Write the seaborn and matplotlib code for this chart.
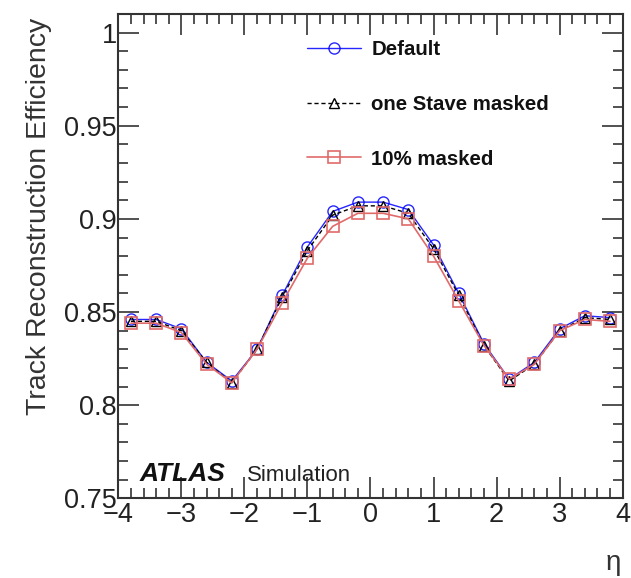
import numpy as np
import pandas as pd
import matplotlib
matplotlib.use("Agg")
import matplotlib.pyplot as plt
import seaborn as sns
from matplotlib.ticker import MultipleLocator

eta = [-3.8, -3.4, -3.0, -2.6, -2.2, -1.8, -1.4, -1.0, -0.6, -0.2,
       0.2, 0.6, 1.0, 1.4, 1.8, 2.2, 2.6, 3.0, 3.4, 3.8]
eff_default = [0.846, 0.846, 0.841, 0.823, 0.813, 0.830, 0.859, 0.885, 0.904, 0.909,
               0.909, 0.905, 0.886, 0.860, 0.833, 0.814, 0.823, 0.841, 0.848, 0.847]
eff_stave = [0.845, 0.845, 0.840, 0.823, 0.812, 0.830, 0.858, 0.883, 0.902, 0.907,
             0.907, 0.903, 0.884, 0.859, 0.832, 0.813, 0.822, 0.840, 0.847, 0.846]
eff_10pct = [0.844, 0.844, 0.839, 0.822, 0.812, 0.830, 0.855, 0.879, 0.896, 0.903,
             0.903, 0.900, 0.880, 0.856, 0.832, 0.814, 0.822, 0.840, 0.846, 0.845]
labels = ["Default", "one Stave masked", "10% masked"]

sns.set_style("ticks")
plt.rcParams['font.family'] = ['Liberation Sans', 'DejaVu Sans']

fig = plt.figure(figsize=(6.31, 5.78), dpi=100)
ax = fig.add_axes([0.1875, 0.1379, 0.7993, 0.8379])

sns.lineplot(x=eta, y=eff_default, ax=ax, color='#0000ff', lw=1.0, marker='o',
             markersize=8, markerfacecolor='none', markeredgecolor='#0000ff',
             markeredgewidth=1.0, label=labels[0], alpha=0.85)
sns.lineplot(x=eta, y=eff_stave, ax=ax, color='black', lw=1.0, linestyle=(0, (3, 2)),
             marker='^', markersize=7, markerfacecolor='none', markeredgecolor='black',
             markeredgewidth=1.0, label=labels[1])
sns.lineplot(x=eta, y=eff_10pct, ax=ax, color='#e06a6a', lw=1.2, marker='s',
             markersize=8, markerfacecolor='none', markeredgecolor='#e06a6a',
             markeredgewidth=1.2, label=labels[2])

ax.set_xlim(-4, 4)
ax.set_ylim(0.75, 1.01)
ax.xaxis.set_minor_locator(MultipleLocator(0.2))
ax.yaxis.set_minor_locator(MultipleLocator(0.01))
ax.set_yticks([0.75, 0.8, 0.85, 0.9, 0.95, 1.0])
ax.set_yticklabels(["0.75", "0.8", "0.85", "0.9", "0.95", "1"])
ax.set_xticks([-4, -3, -2, -1, 0, 1, 2, 3, 4])
ax.set_xticklabels(["\u22124", "\u22123", "\u22122", "\u22121", "0", "1", "2", "3", "4"])

ax.tick_params(which='both', direction='in', top=True, right=True, colors='#333333',
               labelcolor='#222222', labelsize=19.5, width=1.2)
ax.tick_params(which='major', length=15, pad=1)
ax.tick_params(axis='x', which='major', pad=3)
ax.tick_params(which='minor', length=7.5)
for s in ax.spines.values():
    s.set_linewidth(1.5)
    s.set_color('#333333')

ax.set_ylabel("Track Reconstruction Efficiency", fontsize=20.5, color='#333333')
ax.yaxis.set_label_coords(-0.132, 0.583)
fig.text(0.984, 0.004, "\u03b7", fontsize=20, ha='right', va='bottom', color='#333333')

ax.text(0.043, 0.036, "ATLAS", transform=ax.transAxes, fontsize=19,
        fontweight='bold', fontstyle='italic', color='#111111', ha='left', va='baseline')
ax.text(0.255, 0.036, "Simulation", transform=ax.transAxes, fontsize=16,
        color='#222222', ha='left', va='baseline')

leg = ax.legend(loc='upper left', bbox_to_anchor=(0.374, 0.946), frameon=False,
                prop={'weight': 'bold', 'size': 14.7}, handlelength=2.65,
                labelspacing=1.75, borderpad=0, borderaxespad=0, handletextpad=0.5)
for t in leg.get_texts():
    t.set_color('#111111')

fig.savefig("out.png", dpi=100)
